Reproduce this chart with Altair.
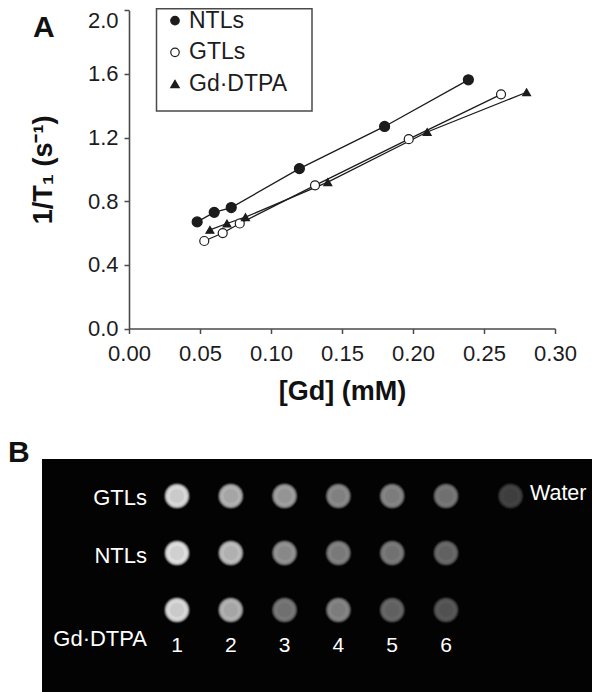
import altair as alt
import pandas as pd

FONT = "Liberation Sans"
INK = "#1c1c1c"
AXIS = "#4a4a4a"

series_names = ["NTLs", "GTLs", "Gd·DTPA"]
ntl_x = [0.048, 0.060, 0.072, 0.120, 0.180, 0.239]
ntl_y = [0.67, 0.73, 0.76, 1.005, 1.27, 1.563]
gtl_x = [0.053, 0.066, 0.078, 0.131, 0.197, 0.262]
gtl_y = [0.55, 0.60, 0.66, 0.90, 1.19, 1.472]
gd_x = [0.057, 0.069, 0.082, 0.140, 0.210, 0.280]
gd_y = [0.62, 0.66, 0.70, 0.92, 1.235, 1.485]

x_ticks = [0.0, 0.05, 0.10, 0.15, 0.20, 0.25, 0.30]
y_ticks = [0.0, 0.4, 0.8, 1.2, 1.6, 2.0]

lanes = [1, 2, 3, 4, 5, 6]
gtl_gray = [0.86, 0.72, 0.65, 0.57, 0.55, 0.50]
ntl_gray = [0.88, 0.76, 0.60, 0.54, 0.51, 0.44]
gd_gray = [0.86, 0.72, 0.50, 0.55, 0.43, 0.37]
water_gray = [0.28]
water_lane = [7.2]

df = pd.concat([
    pd.DataFrame({"series": s, "gd": x, "r1": y, "order": range(len(x))})
    for s, x, y in zip(series_names, [ntl_x, gtl_x, gd_x], [ntl_y, gtl_y, gd_y])
])

spots = pd.concat([
    pd.DataFrame({"lane": lanes, "row": 1, "gray": gtl_gray}),
    pd.DataFrame({"lane": lanes, "row": 2, "gray": ntl_gray}),
    pd.DataFrame({"lane": lanes, "row": 3, "gray": gd_gray}),
    pd.DataFrame({"lane": water_lane, "row": 1, "gray": water_gray}),
])

shape_scale = alt.Scale(domain=series_names, range=["circle", "circle", "triangle-up"])
fill_scale = alt.Scale(domain=series_names, range=[INK, "#ffffff", INK])

x_scale = alt.Scale(domain=[0, 0.30], range=[121, 547], nice=False, zero=False)
y_scale = alt.Scale(domain=[0, 2.0], range=[320.5, 2.3], nice=False, zero=False)
X = alt.X("gd:Q", scale=x_scale, axis=alt.Axis(
    title="[Gd] (mM)", values=x_ticks, format=".2f", grid=False, offset=-363.5,
    titlePadding=14, labelPadding=10, labelFlush=False))
Y = alt.Y("r1:Q", scale=y_scale, axis=alt.Axis(
    title="1/T₁ (s⁻¹)", values=y_ticks, format=".1f", grid=False, offset=-121,
    titlePadding=30, labelPadding=6, labelFlush=False,
    labelOffset=alt.ExprRef("datum.value == 2 ? 10 : 0")))

lines = alt.Chart(df).mark_line(color=INK, strokeWidth=1.3).encode(
    x=X, y=Y, detail="series:N", order="order:Q")
points = alt.Chart(df).mark_point(filled=True, stroke=INK, strokeWidth=1.2, opacity=1).encode(
    x=X, y=Y,
    shape=alt.Shape("series:N", scale=shape_scale, legend=None),
    fill=alt.Fill("series:N", scale=fill_scale, legend=None),
    size=alt.Size("series:N", scale=alt.Scale(domain=series_names, range=[100, 62, 95]), legend=None),
)
panel_a = alt.layer(lines, points)

# Key of panel A
key_df = pd.DataFrame({"series": series_names, "row": [1, 2, 3]})
key_row = alt.Y("row:Q", scale=alt.Scale(domain=[1, 3], range=[12.7, 76], nice=False, zero=False), axis=None)
key_box = alt.Chart(pd.DataFrame({"a": [0]})).mark_rect(
    fill="#ffffff", stroke=AXIS, strokeWidth=1.5).encode(
    x=alt.value(148.5), x2=alt.value(304), y=alt.value(0.8), y2=alt.value(103))
key_marks = alt.Chart(key_df).mark_point(filled=True, stroke=INK, strokeWidth=1.2, opacity=1, size=72).encode(
    x=alt.value(167), y=key_row,
    shape=alt.Shape("series:N", scale=shape_scale, legend=None),
    fill=alt.Fill("series:N", scale=fill_scale, legend=None),
)
key_text = alt.Chart(key_df).mark_text(
    font=FONT, fontSize=23, color=INK, align="left", baseline="middle"
).encode(x=alt.value(181), y=key_row, text="series:N")
panel_key = alt.layer(key_box, key_marks, key_text)


def letter(text, x, y):
    return alt.Chart(pd.DataFrame({"t": [text]})).mark_text(
        font=FONT, fontWeight="bold", fontSize=30, color="#111", align="left", baseline="middle"
    ).encode(x=alt.value(x), y=alt.value(y), text="t:N")


lane_scale = alt.Scale(domain=[1, 7], range=[169, 491.8], nice=False, zero=False)
row_scale = alt.Scale(domain=[1, 3], range=[488, 602], nice=False, zero=False)
gray_scale = alt.Scale(domain=[0, 1], range=["#000000", "#ffffff"])

background = alt.Chart(pd.DataFrame({"a": [0]})).mark_rect(color="#030303").encode(
    x=alt.value(34), x2=alt.value(584), y=alt.value(451), y2=alt.value(684))

spot_layers = []
for d, op in [(27, 0.15), (25.5, 0.28), (24, 0.45), (22, 0.75), (20, 1.0)]:
    spot_layers.append(alt.Chart(spots).mark_circle(size=d * d, opacity=op).encode(
        x=alt.X("lane:Q", scale=lane_scale, axis=None),
        y=alt.Y("row:Q", scale=row_scale, axis=None),
        color=alt.Color("gray:Q", scale=gray_scale, legend=None),
    ))
spot_core = alt.Chart(spots).mark_circle(size=196, opacity=0.06, color="#000000").encode(
    x=alt.X("lane:Q", scale=lane_scale, axis=None),
    y=alt.Y("row:Q", scale=row_scale, axis=None),
)

row_labels = pd.DataFrame({"label": ["GTLs", "NTLs", "Gd·DTPA"], "row": [1.03, 2.05, 3.5]})
row_text = alt.Chart(row_labels).mark_text(
    font=FONT, fontSize=22, color="#ffffff", align="right", baseline="middle"
).encode(x=alt.value(139), y=alt.Y("row:Q", scale=row_scale, axis=None), text="label:N")

lane_labels = pd.DataFrame({"lane": lanes, "row": 3.63, "label": [str(v) for v in lanes]})
lane_text = alt.Chart(lane_labels).mark_text(
    font=FONT, fontSize=21, color="#ffffff", align="center", baseline="middle"
).encode(x=alt.X("lane:Q", scale=lane_scale, axis=None), y=alt.Y("row:Q", scale=row_scale, axis=None), text="label:N")

water_text = alt.Chart(pd.DataFrame({"lane": [7.56], "row": [0.97], "label": ["Water"]})).mark_text(
    font=FONT, fontSize=21.5, color="#ffffff", align="left", baseline="middle"
).encode(x=alt.X("lane:Q", scale=lane_scale, axis=None), y=alt.Y("row:Q", scale=row_scale, axis=None), text="label:N")

panel_b = alt.layer(background, *spot_layers, spot_core, row_text, lane_text, water_text)

chart = alt.layer(panel_a, panel_key, panel_b, letter("A", 25, 20), letter("B", 0, 445)).resolve_scale(
    x="independent", y="independent"
).properties(
    width=584, height=684, padding=0, autosize=alt.AutoSizeParams(type="none"), background="#ffffff"
).configure_view(stroke=None).configure_axis(
    labelFont=FONT, labelFontSize=22, labelColor=INK,
    titleFont=FONT, titleFontSize=27, titleFontWeight="bold", titleColor="#111",
    domainColor=AXIS, domainWidth=1.6, tickColor=AXIS, tickWidth=1.5, tickSize=5,
)

chart.save("out.html", embed_options={"renderer": "svg", "actions": False})
